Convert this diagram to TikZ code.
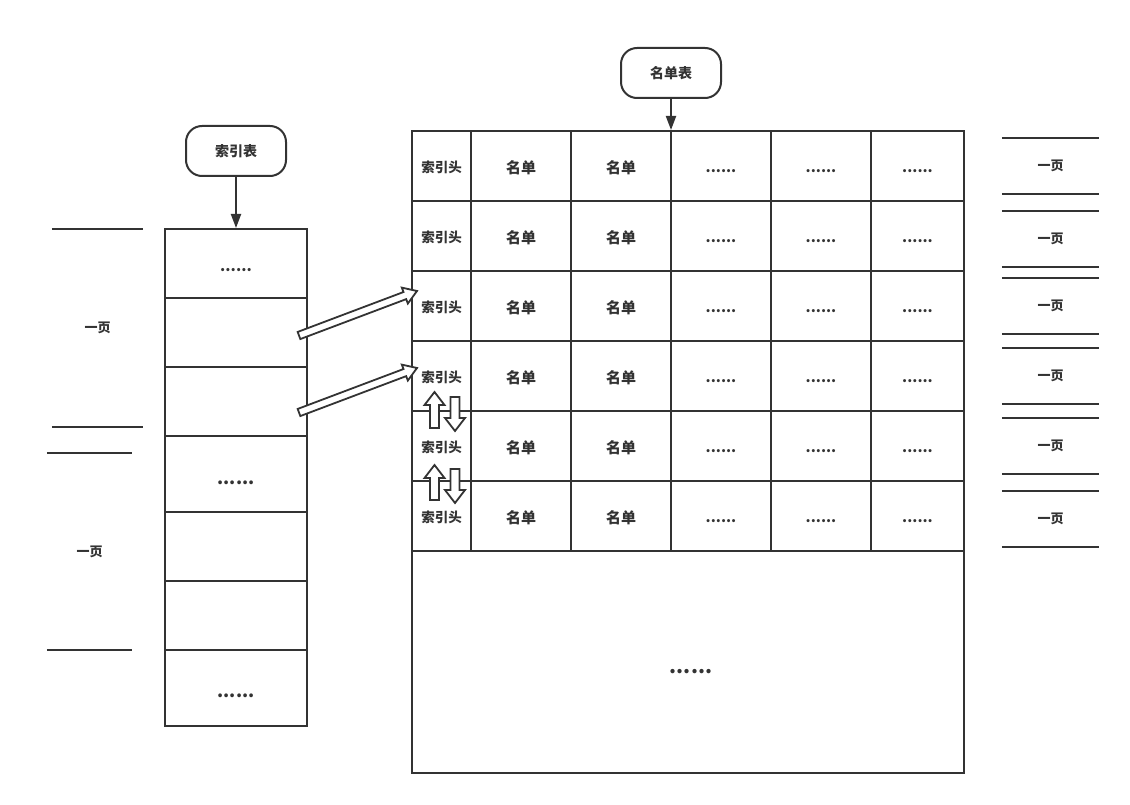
\documentclass[tikz,border=0pt]{standalone}
\usepackage{fontspec}
\setmainfont{Noto Sans CJK SC}
\usetikzlibrary{arrows.meta,calc}
\definecolor{ink}{HTML}{333333}
\tikzset{
  every node/.style={text=ink},
  cell/.style={draw=ink, line width=2pt, minimum width=#1, minimum height=70pt, inner sep=0pt},
  lcell/.style={draw=ink, line width=2pt, minimum width=142pt, minimum height=#1, inner sep=0pt},
  term/.style={draw=ink, line width=2pt, rounded corners=16pt, minimum width=100pt, minimum height=50pt, inner sep=0pt, font=\fontsize{14}{14}\selectfont\bfseries},
  pagebox/.style={minimum width=#1, inner sep=0pt, font=\fontsize{13}{13}\selectfont\bfseries},
  edge/.style={draw=ink, line width=2pt},
  flow/.style={draw=ink, line width=2pt, -{Triangle[length=14pt,width=10pt]}},
  blk/.style={draw=ink, line width=1.8pt, fill=white},
  hdrtext/.style={font=\fontsize{13.5}{13.5}\selectfont\bfseries, yshift=-1.5pt},
  listtext/.style={font=\fontsize{15}{15}\selectfont\bfseries, yshift=-2pt},
  dotstext/.style={font=\fontsize{14.5}{14.5}\selectfont\bfseries, yshift=-5.5pt},
}
% block arrow: tail, tip, half shaft, half head, head length
\newcommand\blkarrow[5]{%
  \coordinate (hb) at ($(#2)!#5!(#1)$);
  \draw[blk] ($(#1)!#3!90:(#2)$) -- ($(hb)!#3!-90:(#1)$) -- ($(hb)!#4!-90:(#1)$)
     -- (#2) -- ($(hb)!#4!90:(#1)$) -- ($(hb)!#3!90:(#1)$) -- ($(#1)!#3!-90:(#2)$) -- cycle;
}
\begin{document}
\begin{tikzpicture}[x=1pt,y=-1pt]
\useasboundingbox (0,0) rectangle (1130,805);
% terminals
\node[term] (sy) at (236,151) {索引表};
\node[term] (md) at (671,73) {名单表};
% left column
\node[lcell=69pt] (l1) at (236,263.5) {};
\node[dotstext, font=\fontsize{15}{15}\selectfont\bfseries, yshift=-1pt] (l1t) at (l1) {......};
\node[lcell=69pt] (l2) at (236,332.5) {};
\node[lcell=69pt] (l3) at (236,401.5) {};
\node[lcell=76pt] (l4) at (236,474) {};
\node[dotstext, font=\fontsize{17.5}{17.5}\selectfont\bfseries, yshift=-3pt] (l4t) at (l4) {......};
\node[lcell=69pt] (l5) at (236,546.5) {};
\node[lcell=69pt] (l6) at (236,615.5) {};
\node[lcell=76pt] (l7) at (236,688) {};
\node[dotstext, font=\fontsize{17.5}{17.5}\selectfont\bfseries, yshift=-2pt] (l7t) at (l7) {......};
\draw[flow] (sy.south) -- (l1.north);
% big table
\node[draw=ink, line width=2pt, minimum width=552pt, minimum height=222pt, inner sep=0pt] (rest) at (688,662) {};
\node[dotstext, font=\fontsize{20}{20}\selectfont\bfseries, yshift=-4pt] (restt) at (691,662) {......};
\foreach \r in {1,...,6}{
  \pgfmathsetmacro{\yy}{131+70*\r-35}
  \node[cell=59pt] (h\r) at (441.5,\yy) {};
  \node[cell=100pt] (a\r) at (521,\yy) {};
  \node[cell=100pt] (b\r) at (621,\yy) {};
  \node[cell=100pt] (c\r) at (721,\yy) {};
  \node[cell=100pt] (d\r) at (821,\yy) {};
  \node[cell=93pt] (e\r) at (917.5,\yy) {};
  \node[hdrtext] (ht\r) at (h\r) {索引头};
  \node[listtext] (at\r) at (a\r) {名单};
  \node[listtext] (bt\r) at (b\r) {名单};
  \node[dotstext] (ct\r) at (c\r) {......};
  \node[dotstext] (dt\r) at (d\r) {......};
  \node[dotstext] (et\r) at (e\r) {......};
}
\draw[flow] (md.south) -- (h1.north -| md.south);
% left page labels
\node[pagebox=91pt, minimum height=198pt] (lp1) at (97.5,328) {一页};
\draw[edge] (lp1.north west) -- (lp1.north east) (lp1.south west) -- (lp1.south east);
\node[pagebox=85pt, minimum height=197pt] (lp2) at (89.5,551.5) {一页};
\draw[edge] (lp2.north west) -- (lp2.north east) (lp2.south west) -- (lp2.south east);
% right page labels
\foreach \i/\t/\b in {1/138/194,2/211/267,3/278/334,4/348/404,5/418/474,6/491/547}{
  \node[pagebox=97pt, minimum height=\b-\t] (rp\i) at (1050.5,{(\t+\b)/2}) {一页};
  \draw[edge] (rp\i.north west) -- (rp\i.north east) (rp\i.south west) -- (rp\i.south east);
}
% diagonal block arrows
\coordinate (t1) at (299,335.5);
\coordinate (p1) at (417,291);
\coordinate (t2) at (299,412.5);
\coordinate (p2) at (417,368);
\blkarrow{t1}{p1}{3.8pt}{8.5pt}{13pt}
\blkarrow{t2}{p2}{3.8pt}{8.5pt}{13pt}
% vertical arrows
\coordinate (ut1) at (434.5,428);
\coordinate (up1) at (434.5,392);
\coordinate (dt1) at (455,397);
\coordinate (dp1) at (455,431);
\coordinate (ut2) at (434.5,500);
\coordinate (up2) at (434.5,465);
\coordinate (dt2) at (455,469);
\coordinate (dp2) at (455,503);
\blkarrow{ut1}{up1}{4.5pt}{10pt}{13pt}
\blkarrow{dt1}{dp1}{4.5pt}{10pt}{13pt}
\blkarrow{ut2}{up2}{4.5pt}{10pt}{13pt}
\blkarrow{dt2}{dp2}{4.5pt}{10pt}{13pt}
\end{tikzpicture}
\end{document}
